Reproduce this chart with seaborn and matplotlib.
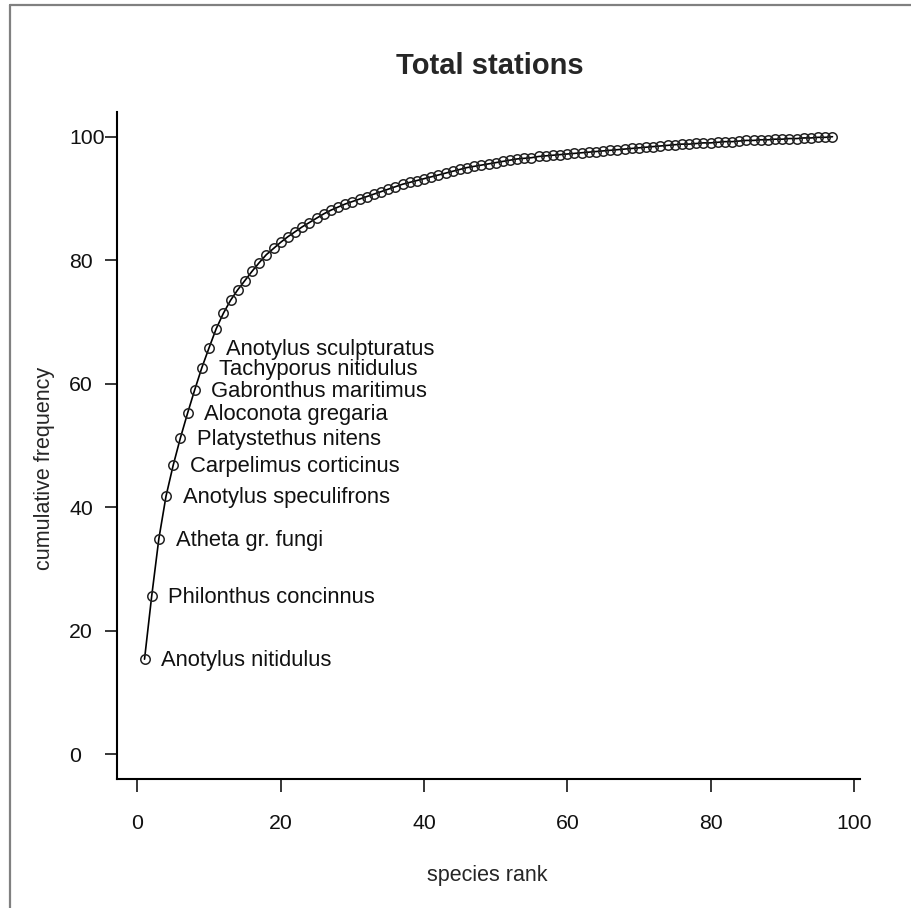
import matplotlib
matplotlib.use("Agg")
import matplotlib.pyplot as plt
from matplotlib.lines import Line2D
import seaborn as sns
import pandas as pd

# Cumulative frequency (%) of species ordered by abundance rank, all stations pooled
rank = list(range(1, 98))
cum_freq = [
    15.4, 25.6, 34.9, 41.8, 46.8, 51.2, 55.2, 59.0, 62.6, 65.8,
    68.9, 71.4, 73.5, 75.2, 76.7, 78.2, 79.6, 80.9, 81.9, 82.9,
    83.8, 84.6, 85.4, 86.1, 86.8, 87.5, 88.1, 88.6, 89.1, 89.5,
    89.9, 90.3, 90.7, 91.1, 91.5, 91.9, 92.3, 92.6, 92.9, 93.2,
    93.5, 93.8, 94.1, 94.4, 94.7, 95.0, 95.2, 95.4, 95.6, 95.8,
    96.0, 96.2, 96.4, 96.5, 96.6, 96.8, 96.9, 97.0, 97.1, 97.2,
    97.3, 97.4, 97.5, 97.6, 97.7, 97.8, 97.9, 98.0, 98.1, 98.2,
    98.3, 98.4, 98.5, 98.6, 98.7, 98.8, 98.8, 98.9, 99.0, 99.0,
    99.1, 99.2, 99.2, 99.3, 99.4, 99.4, 99.5, 99.5, 99.6, 99.6,
    99.7, 99.7, 99.8, 99.8, 99.9, 99.9, 100.0,
]

# Names of the ten most abundant species (ranks 1-10)
top_species = [
    "Anotylus nitidulus", "Philonthus concinnus", "Atheta gr. fungi",
    "Anotylus speculifrons", "Carpelimus corticinus", "Platystethus nitens",
    "Aloconota gregaria", "Gabronthus maritimus", "Tachyporus nitidulus",
    "Anotylus sculpturatus",
]

x_ticks = [0, 20, 40, 60, 80, 100]
y_ticks = [0, 20, 40, 60, 80, 100]

df = pd.DataFrame({"rank": rank, "cum": cum_freq})

sns.set_style("ticks")
plt.rcParams["font.family"] = ["Liberation Sans", "DejaVu Sans"]

fig = plt.figure(figsize=(9.11, 9.08), dpi=100)
ax = fig.add_axes([117 / 911, 1 - 779 / 908, 743 / 911, 667 / 908])

sns.lineplot(
    data=df, x="rank", y="cum", ax=ax,
    color="black", linewidth=1.2,
    marker="o", markersize=6.8, markerfacecolor="none",
    markeredgecolor="#222222", markeredgewidth=1.1,
)

# Label the leading species next to their points
for i, name in enumerate(top_species):
    ax.annotate(
        name, xy=(rank[i], cum_freq[i]), xytext=(12, -1),
        textcoords="offset points", ha="left", va="center",
        fontsize=15.8, color="#111111",
    )

# R-style extents: data range padded by 4 %
xr = max(rank) - min(rank)
ax.set_xlim(min(rank) - 0.04 * xr, max(rank) + 0.04 * xr)
ax.set_ylim(-4, 104)

ax.set_xticks(x_ticks)
ax.set_yticks(y_ticks)
ax.tick_params(axis="both", length=9, width=1.1, color="black",
               labelsize=15.3, labelcolor="#111111")
ax.tick_params(axis="x", pad=16)
ax.tick_params(axis="y", pad=25.5)
for lab in ax.get_yticklabels():
    lab.set_horizontalalignment("left")

for side in ("top", "right"):
    ax.spines[side].set_visible(False)
for side in ("left", "bottom"):
    ax.spines[side].set_linewidth(1.5)
    ax.spines[side].set_color("black")

ax.set_title("Total stations", fontsize=21, fontweight="bold", pad=0,
             x=(490 - 117) / 743, y=(779 - 66) / 667, va="center")
ax.set_xlabel("species rank", fontsize=15.5, va="center")
ax.xaxis.set_label_coords((487 - 117) / 743, (779 - 876) / 667)
ax.set_ylabel("cumulative frequency", fontsize=15.5, va="center")
ax.yaxis.set_label_coords((45 - 117) / 743, (779 - 468) / 667)

# Grey frame along the top and left edges of the figure
frame_kw = dict(color="#808080", linewidth=1.6, transform=fig.transFigure)
fig.add_artist(Line2D([10 / 911, 1.0], [1 - 5 / 908, 1 - 5 / 908], **frame_kw))
fig.add_artist(Line2D([10 / 911, 10 / 911], [1 - 5 / 908, 0.0], **frame_kw))

fig.savefig("out.png", dpi=100)
